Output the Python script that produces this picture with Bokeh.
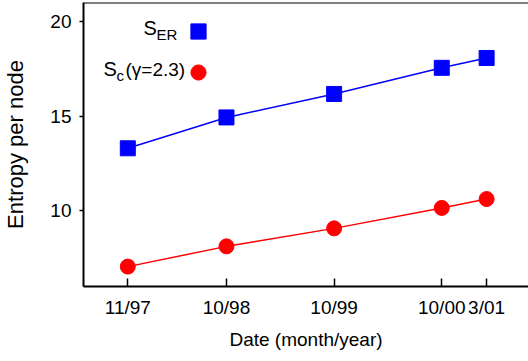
from bokeh.plotting import figure
from bokeh.models import Range1d, FixedTicker, Label, Legend, LegendItem, Span
from bokeh.embed import file_html
from bokeh.resources import INLINE

# ---- data ----
dates = ["11/97", "10/98", "10/99", "10/00", "3/01"]
months = [0, 11, 23, 35, 40]          # months since Nov 1997
s_er = [13.3, 14.93, 16.17, 17.55, 18.07]
s_c = [7.05, 8.12, 9.07, 10.15, 10.62]
y_ticks = [10, 15, 20]

FONT = "Liberation Sans"
X_START, X_END = -4.94, 44.67
Y_START, Y_END = 6.0, 21.0

p = figure(width=528, height=361, output_backend="svg", toolbar_location=None,
           x_range=Range1d(X_START, X_END), y_range=Range1d(Y_START, Y_END),
           min_border_left=83, min_border_right=0, min_border_top=2,
           min_border_bottom=75)
p.xgrid.grid_line_color = None
p.ygrid.grid_line_color = None
p.outline_line_color = None
p.background_fill_color = "white"
p.border_fill_color = "white"

xa = p.xaxis[0]
xa.ticker = FixedTicker(ticks=months)
xa.major_label_overrides = {m: d for m, d in zip(months, dates)}
xa.major_tick_in = 8
xa.major_tick_out = 0
xa.minor_tick_line_color = None
xa.axis_line_width = 2
xa.axis_line_color = "black"
xa.major_tick_line_width = 1.5
xa.major_tick_line_color = "black"
xa.major_label_standoff = 10
xa.major_label_text_font = FONT
xa.major_label_text_font_size = "19px"
xa.major_label_text_color = "black"
xa.axis_label = "Date (month/year)"
xa.axis_label_text_font = FONT
xa.axis_label_text_font_size = "19px"
xa.axis_label_text_font_style = "normal"
xa.axis_label_text_color = "black"
xa.axis_label_standoff = 8

ya = p.yaxis[0]
ya.ticker = FixedTicker(ticks=y_ticks)
ya.major_tick_in = 0
ya.major_tick_out = 4
ya.minor_tick_line_color = None
ya.axis_line_width = 2
ya.axis_line_color = "black"
ya.major_tick_line_width = 1.5
ya.major_tick_line_color = "black"
ya.major_label_standoff = 8
ya.major_label_text_font = FONT
ya.major_label_text_font_size = "19px"
ya.major_label_text_color = "black"
ya.axis_label = "Entropy per node"
ya.axis_label_text_font = FONT
ya.axis_label_text_font_size = "22px"
ya.axis_label_text_font_style = "normal"
ya.axis_label_text_color = "black"
ya.axis_label_standoff = 19

p.add_layout(Span(location=Y_END, dimension="width", line_color="black", line_width=2))

p.line(months, s_er, line_color="blue", line_width=1.5)
sq = p.scatter(months, s_er, marker="square", size=15, fill_color="blue", line_color="blue")
p.line(months, s_c, line_color="red", line_width=1.5)
ci = p.scatter(months, s_c, marker="circle", size=15, fill_color="red", line_color="red")

legend = Legend(items=[LegendItem(label=" ", renderers=[sq]),
                       LegendItem(label=" ", renderers=[ci])],
                location=(96, 195.5), glyph_width=38, glyph_height=38,
                spacing=3, padding=0, margin=0, border_line_color=None,
                background_fill_alpha=0, label_standoff=0,
                label_text_font_size="1px")
p.add_layout(legend)

def lab(x, y, t, size):
    p.add_layout(Label(x=x, y=y, x_units="screen", y_units="screen", text=t,
                       text_font=FONT, text_font_size=size, text_color="black",
                       text_baseline="alphabetic", text_align="left"))

lab(60, 258.5, "S", "20px")
lab(73, 252.5, "ER", "15px")
lab(20, 217.5, "S", "20px")
lab(33, 211.5, "c", "15px")
lab(42, 217.5, "(\u03b3=2.3)", "19px")

open("out.html", "w").write(file_html(p, INLINE))
